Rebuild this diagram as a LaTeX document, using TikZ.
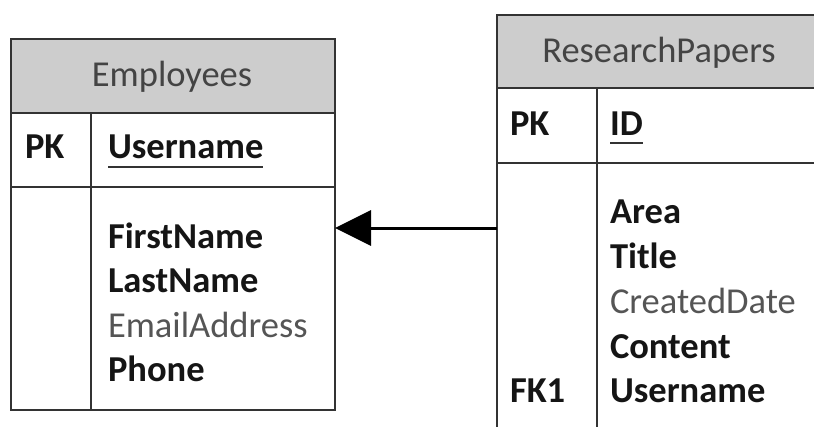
\documentclass[tikz,border=0pt]{standalone}
\usepackage{fontspec}
\setmainfont{Carlito}
\usetikzlibrary{arrows.meta}
\definecolor{hdrgray}{HTML}{CDCDCD}
\definecolor{linec}{HTML}{333333}
\definecolor{hdrtext}{HTML}{444444}
\definecolor{plaintext}{HTML}{555555}
\definecolor{boldtext}{HTML}{151515}
\begin{document}
\begin{tikzpicture}[x=1pt,y=-1pt,
  tblbox/.style={draw=linec, line width=2pt, inner sep=0, outer sep=0, anchor=north west},
  rule/.style={draw=linec, line width=2pt},
  hdrfill/.style={fill=hdrgray},
  txt/.style={inner sep=0, outer sep=0, anchor=base west, font=\fontsize{36.5}{44}\selectfont},
  hdrtxt/.style={inner sep=0, outer sep=0, anchor=base, font=\fontsize{36.5}{44}\selectfont, text=hdrtext},
  keytxt/.style={txt, font=\fontsize{36.5}{44}\selectfont\bfseries, text=boldtext},
  boldtxt/.style={txt, font=\fontsize{36.5}{44}\selectfont\bfseries, text=boldtext},
  plaintxt/.style={txt, text=plaintext},
  uline/.style={draw=linec, line width=2.2pt},
  fkarrow/.style={draw=black, line width=3pt, -{Triangle[length=36pt, width=35pt]}}
]
\useasboundingbox (0,0) rectangle (814,426);
\clip (0,0) rectangle (814,426);
\fill[white] (0,0) rectangle (814,426);

% ---------------- Employees ----------------
\fill[hdrfill] (11,39) rectangle (335,113);
\node[tblbox, minimum width=324pt, minimum height=371pt] (emp) at (11,39) {};
\draw[rule] (11,113) -- (335,113);
\draw[rule] (11,187) -- (335,187);
\draw[rule] (91,113) -- (91,410);
\node[hdrtxt] (emptitle) at (172,86) {Employees};
\node[keytxt] (emppk) at (25,158) {PK};
\node[boldtxt] (empuser) at (108,158) {Username};
\draw[uline] ([yshift=-9pt]empuser.base west) -- ([yshift=-9pt]empuser.base east);
\node[boldtxt] (empfirst) at (108,248) {FirstName};
\node[boldtxt] (emplast) at (108,292) {LastName};
\node[plaintxt] (empmail) at (108,337) {EmailAddress};
\node[boldtxt] (empphone) at (108,381) {Phone};

% ---------------- ResearchPapers ----------------
\fill[hdrfill] (497,15) rectangle (830,88);
\node[tblbox, minimum width=333pt, minimum height=430pt] (rp) at (497,15) {};
\draw[rule] (497,88) -- (830,88);
\draw[rule] (497,163) -- (830,163);
\draw[rule] (597,88) -- (597,440);
\node[hdrtxt] (rptitle) at (659,62) {ResearchPapers};
\node[keytxt] (rppk) at (510,135) {PK};
\node[boldtxt] (rpid) at (610,135) {ID};
\draw[uline] ([yshift=-8pt]rpid.base west) -- ([yshift=-8pt]rpid.base east);
\node[boldtxt] (rparea) at (610,223) {Area};
\node[boldtxt] (rptitlef) at (610,268) {Title};
\node[plaintxt] (rpdate) at (610,313) {CreatedDate};
\node[boldtxt] (rpcontent) at (610,358) {Content};
\node[keytxt] (rpfk) at (510,402) {FK1};
\node[boldtxt] (rpuser) at (610,402) {Username};

% ---------------- Relationship ----------------
\coordinate (arrowy) at (0,228);
\draw[fkarrow] (rp.west |- arrowy) -- (emp.east |- arrowy);
\end{tikzpicture}
\end{document}
